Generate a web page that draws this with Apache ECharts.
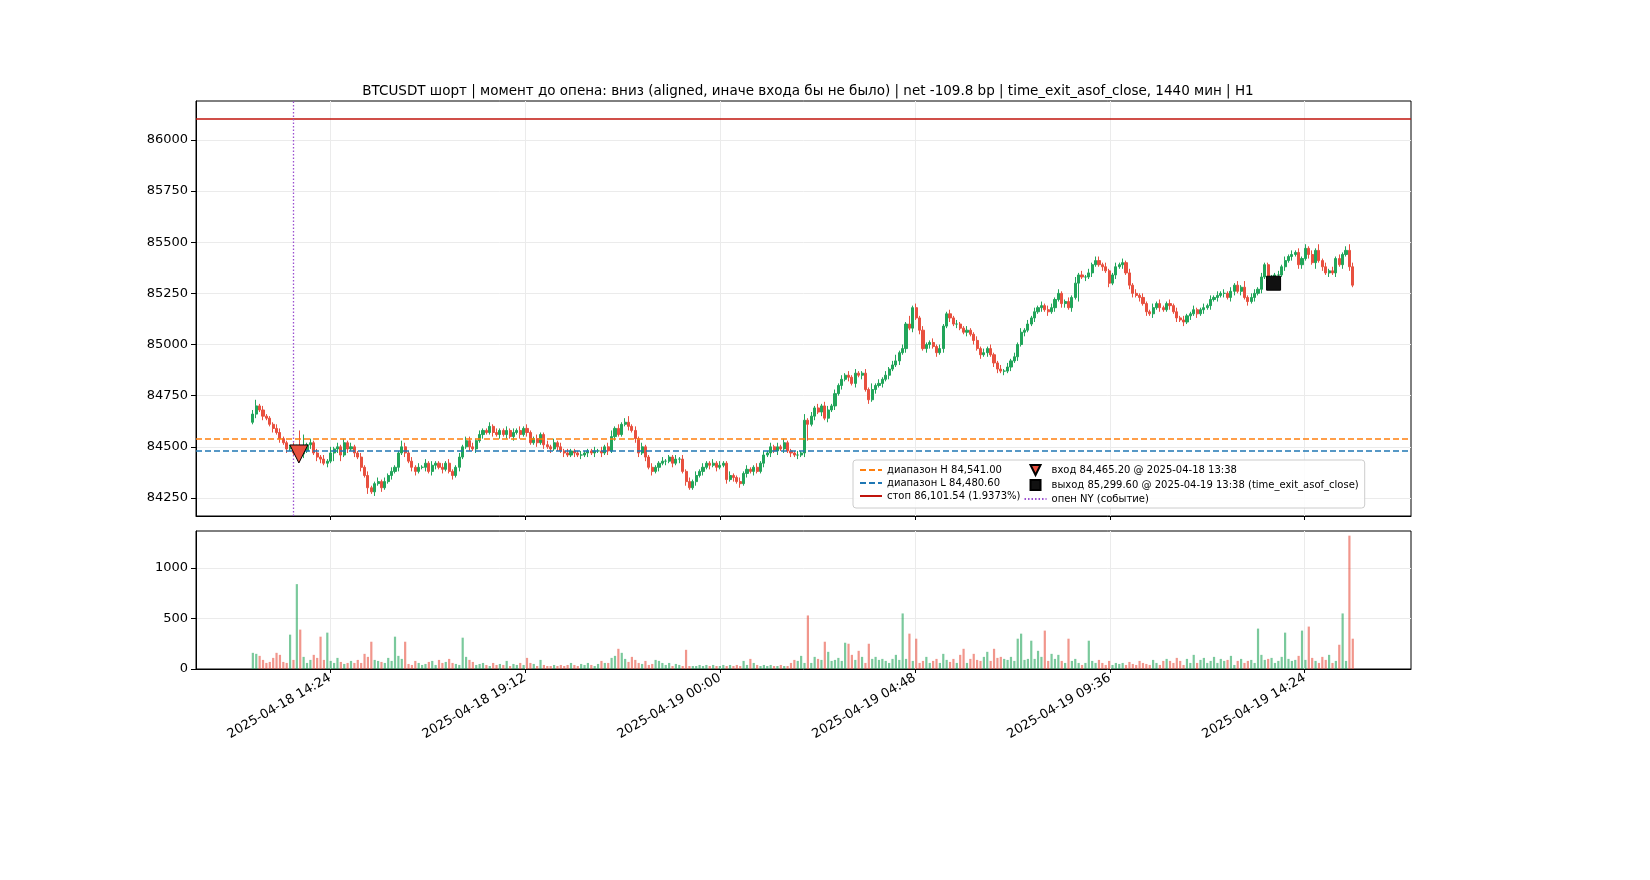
<!DOCTYPE html>
<html><head><meta charset="utf-8">
<script src="https://cdn.jsdelivr.net/npm/echarts@6/dist/echarts.min.js"></script>
<style>html,body{margin:0;background:#fff}#c{width:1650px;height:880px}</style>
</head><body><div id="c"></div>
<script>
// 5-min candles, 2025-04-18 12:30 .. 2025-04-19 15:35 (x = minutes since 2025-04-18 00:00)
var startMin = 750, step = 5;
var firstOpen = 84620;
var closes = [
84660,84700,84680,84650,84640,84610,84590,84570,84540,84520,
84490,84500,84470,84500,84465,84480,84510,84520,84470,84450,
84440,84420,84430,84470,84490,84500,84460,84520,84490,84500,
84470,84450,84400,84360,84300,84280,84320,84330,84300,84330,
84360,84380,84400,84470,84500,84470,84430,84400,84380,84400,
84400,84420,84380,84410,84420,84400,84390,84420,84380,84360,
84400,84450,84500,84530,84500,84490,84530,84560,84580,84570,
84600,84570,84560,84580,84560,84580,84550,84570,84580,84560,
84590,84570,84520,84540,84520,84560,84510,84500,84490,84520,
84500,84480,84470,84460,84480,84470,84460,84460,84470,84480,
84470,84480,84480,84470,84500,84480,84550,84590,84560,84610,
84620,84600,84580,84540,84470,84500,84450,84400,84380,84400,
84420,84430,84430,84450,84420,84440,84440,84380,84330,84300,
84330,84360,84380,84400,84420,84410,84420,84400,84410,84420,
84340,84360,84350,84330,84320,84370,84390,84380,84400,84380,
84420,84460,84470,84500,84480,84500,84490,84520,84480,84470,
84460,84460,84470,84630,84610,84650,84690,84670,84700,84640,
84680,84700,84760,84800,84830,84850,84840,84810,84860,84850,
84860,84780,84730,84780,84800,84810,84830,84850,84880,84900,
84920,84960,84980,85100,85080,85180,85130,85070,84980,85000,
85010,84990,84960,84980,85090,85150,85130,85100,85100,85080,
85060,85070,85050,85020,84980,84950,84960,84980,84950,84910,
84880,84870,84870,84890,84920,84940,85000,85060,85070,85100,
85130,85160,85180,85190,85170,85160,85180,85220,85250,85200,
85210,85180,85230,85300,85340,85330,85330,85350,85390,85410,
85390,85380,85360,85300,85340,85380,85390,85400,85350,85290,
85250,85240,85230,85200,85160,85150,85180,85200,85180,85170,
85200,85190,85160,85130,85120,85110,85140,85150,85170,85150,
85170,85180,85190,85220,85230,85240,85250,85250,85230,85260,
85290,85260,85280,85230,85210,85230,85250,85270,85330,85390,
85320,85320,85340,85340,85380,85410,85430,85440,85450,85390,
85420,85470,85440,85400,85460,85410,85380,85350,85360,85350,
85420,85390,85440,85460,85380,85290];
// wick lengths above / below the body, in tens of USD
var hiWick = ('2312111221' + '1121881212' + '1213121212' + '1121211212' + '1211321212' +
  '1212112121' + '1212221211' + '2121121212' + '1211211212' + '1212111211' +
  '1212123121' + '2312121121' + '1211121212' + '1212112121' + '1211212112' +
  '1212121211' + '1213121212' + '2121212121' + '1213121212' + '3121412121' +
  '1212112121' + '1211212121' + '1212121212' + '1212122121' + '1213121212' +
  '2121121212' + '1212112121' + '1212121121' + '1212121212' + '1213122121' +
  '1212121212' + '1212131212' + '1212329').split('').map(Number);
var loWick = ('1212112121' + '2112121212' + '2121423121' + '2121312121' + '1212121221' +
  '1212212112' + '1211212121' + '1212121212' + '1211212121' + '2121121212' +
  '1212121211' + '1212212121' + '2121212121' + '1212121211' + '2121212121' +
  '1212121212' + '1212812121' + '2121212121' + '2121212121' + '1212121212' +
  '2121212121' + '1212121212' + '2121212121' + '1212121212' + '2121912121' +
  '1212121212' + '2121212121' + '1212121212' + '1212121212' + '2121212121' +
  '1212121212' + '2121312121' + '2121215').split('').map(Number);
var volumes = [
160,150,130,90,60,70,110,160,140,70,
60,340,90,840,390,120,60,90,140,110,
320,90,360,80,60,110,70,50,60,80,
60,90,60,150,120,270,90,80,70,60,
110,80,320,130,100,270,50,40,80,60,
40,50,70,80,40,90,60,70,100,60,
50,40,310,120,90,70,40,50,60,40,
30,60,40,50,40,80,30,50,40,60,
40,110,60,50,30,90,40,30,30,40,
30,40,30,40,60,40,30,50,40,60,
40,30,50,80,60,60,110,130,200,160,
100,70,120,90,60,50,80,40,50,90,
80,60,40,60,30,50,40,30,190,30,
30,30,40,30,40,30,40,30,30,40,
30,40,30,40,30,80,40,100,60,40,
30,40,30,40,30,30,40,30,30,60,
90,80,130,60,530,60,120,100,90,270,
170,80,90,110,80,260,250,140,90,180,
120,60,250,100,120,90,100,80,60,100,
140,90,550,100,350,80,300,60,80,120,
60,80,100,60,150,90,70,100,60,140,
200,60,100,150,90,80,120,170,80,200,
110,120,100,90,120,80,300,350,90,100,
280,100,180,120,380,80,150,100,140,80,
60,300,80,100,60,40,60,280,80,60,
90,60,40,80,40,60,50,60,40,70,
50,40,80,60,50,40,90,60,40,80,
100,80,60,110,80,40,100,60,140,60,
90,110,60,80,120,60,100,80,90,130,
40,80,100,60,80,90,60,400,140,90,
100,110,60,80,120,360,100,80,90,130,
380,90,420,110,80,60,120,90,140,60,
80,240,550,80,1320,300];
var xTicks = [864, 1152, 1440, 1728, 2016, 2304];
var xTickLabels = ['2025-04-18 14:24', '2025-04-18 19:12', '2025-04-19 00:00',
  '2025-04-19 04:48', '2025-04-19 09:36', '2025-04-19 14:24'];
var priceTicks = [84250, 84500, 84750, 85000, 85250, 85500, 85750, 86000];
var volTicks = [0, 500, 1000];
var rangeH = 84541.00, rangeL = 84480.60, stopPrice = 86101.54;
var entry = [818, 84465.20], exit = [2258, 85299.60], nyOpen = 810;

var GREEN = '#21a55a', RED = '#e8503f';
var candles = [], vols = [];
var prev = firstOpen;
for (var i = 0; i < closes.length; i++) {
  var o = prev, c = closes[i];
  var hi = Math.max(o, c) + hiWick[i] * 10, lo = Math.min(o, c) - loWick[i] * 10;
  var x = startMin + i * step;
  candles.push([x, o, c, lo, hi]);
  vols.push({value: [x, volumes[i]], itemStyle: {color: c >= o ? 'rgba(33,165,90,0.6)' : 'rgba(232,80,63,0.6)'}});
  prev = c;
}
var labelMap = {};
xTicks.forEach(function (t, k) { labelMap[t] = xTickLabels[k]; });
var font = 'DejaVu Sans';
var gridLine = {show: true, lineStyle: {color: '#ebebeb'}};
var xCommon = {type: 'value', min: 666, max: 2461,
  axisLine: {onZero: false, lineStyle: {color: '#000'}},
  axisTick: {customValues: xTicks, length: 4, lineStyle: {color: '#000'}}};

var chart = echarts.init(document.getElementById('c'));
chart.setOption({
  animation: false,
  textStyle: {fontFamily: font},
  title: {text: 'BTCUSDT шорт | момент до опена: вниз (aligned, иначе входа бы не было) | net -109.8 bp | time_exit_asof_close, 1440 мин | H1',
    left: 803, top: 79, textAlign: 'center', textStyle: {fontSize: 13.5, fontWeight: 'normal', color: '#000', fontFamily: font}},
  grid: [{left: 196, right: 239, top: 101, height: 415, show: true, borderColor: '#000', borderWidth: 1},
         {left: 196, right: 239, top: 531, height: 138, show: true, borderColor: '#000', borderWidth: 1}],
  xAxis: [
    Object.assign({}, xCommon, {gridIndex: 0, axisLabel: {show: false},
      splitLine: Object.assign({customValues: xTicks}, gridLine)}),
    Object.assign({}, xCommon, {gridIndex: 1, splitLine: Object.assign({customValues: xTicks}, gridLine),
      axisLabel: {customValues: xTicks, rotate: 30, fontSize: 13, color: '#000', margin: 8,
        formatter: function (v) { return labelMap[v] || ''; }}})
  ],
  yAxis: [
    {type: 'value', gridIndex: 0, min: 84162, max: 86190,
      axisLabel: {fontSize: 13, color: '#000', customValues: priceTicks, formatter: function (v) { return String(v); }},
      axisTick: {show: true, customValues: priceTicks, lineStyle: {color: '#000'}},
      axisLine: {show: true, lineStyle: {color: '#000'}},
      splitLine: Object.assign({customValues: priceTicks}, gridLine)},
    {type: 'value', gridIndex: 1, min: 0, max: 1366,
      axisLabel: {fontSize: 13, color: '#000', customValues: volTicks, formatter: function (v) { return String(v); }},
      axisTick: {show: true, customValues: volTicks, lineStyle: {color: '#000'}},
      axisLine: {show: true, lineStyle: {color: '#000'}},
      splitLine: Object.assign({customValues: volTicks}, gridLine)}
  ],
  legend: {left: 853, top: 460, width: 552, height: 50, orient: 'vertical', itemGap: 3,
    itemWidth: 22, itemHeight: 10, textStyle: {fontSize: 10, color: '#000', fontFamily: font},
    backgroundColor: 'rgba(255,255,255,0.85)', borderColor: '#ccc', borderWidth: 1, borderRadius: 3, padding: [4, 6],
    data: [
      {name: 'диапазон H 84,541.00', itemStyle: {opacity: 0}},
      {name: 'диапазон L 84,480.60', itemStyle: {opacity: 0}},
      {name: 'стоп 86,101.54 (1.9373%)', itemStyle: {opacity: 0}},
      {name: 'вход 84,465.20 @ 2025-04-18 13:38', icon: 'path://M0,0 L14,0 L7,14 Z'},
      {name: 'выход 85,299.60 @ 2025-04-19 13:38 (time_exit_asof_close)', icon: 'path://M0,0 L12,0 L12,12 L0,12 Z'},
      {name: 'опен NY (событие)', itemStyle: {opacity: 0}}]},
  series: [
    {type: 'candlestick', name: 'price', xAxisIndex: 0, yAxisIndex: 0, data: candles, barWidth: 2.6,
      encode: {x: 0, y: [1, 2, 3, 4]},
      itemStyle: {color: GREEN, color0: RED, borderColor: GREEN, borderColor0: RED, borderWidth: 1}},
    {type: 'bar', name: 'vol', xAxisIndex: 1, yAxisIndex: 1, data: vols, barWidth: 2.2},
    {type: 'line', name: 'диапазон H 84,541.00', data: [], symbol: 'none', lineStyle: {color: '#ff7f0e', type: [6, 3], width: 1.5}, itemStyle: {color: '#ff7f0e'},
      markLine: {silent: true, symbol: 'none', label: {show: false}, lineStyle: {color: '#ff7f0e', type: [6, 3], width: 1.5}, data: [{yAxis: rangeH}]}},
    {type: 'line', name: 'диапазон L 84,480.60', data: [], symbol: 'none', lineStyle: {color: '#1f77b4', type: [6, 3], width: 1.5}, itemStyle: {color: '#1f77b4'},
      markLine: {silent: true, symbol: 'none', label: {show: false}, lineStyle: {color: '#1f77b4', type: [6, 3], width: 1.5}, data: [{yAxis: rangeL}]}},
    {type: 'line', name: 'стоп 86,101.54 (1.9373%)', data: [], symbol: 'none', lineStyle: {color: '#c0140c', width: 1.5}, itemStyle: {color: '#c0140c'},
      markLine: {silent: true, symbol: 'none', label: {show: false}, lineStyle: {color: '#c0140c', type: 'solid', width: 1.5}, data: [{yAxis: stopPrice}]}},
    {type: 'line', name: 'опен NY (событие)', data: [], symbol: 'none', lineStyle: {color: '#9b4fd0', type: [1.5, 2], width: 1.2}, itemStyle: {color: '#9b4fd0'},
      markLine: {silent: true, symbol: 'none', label: {show: false}, lineStyle: {color: '#9b4fd0', type: [1.5, 2], width: 1.3}, data: [{xAxis: nyOpen}]}},
    {type: 'scatter', name: 'вход 84,465.20 @ 2025-04-18 13:38', data: [entry], symbol: 'triangle', symbolRotate: 180, symbolSize: 18,
      itemStyle: {color: '#e8503f', borderColor: '#000', borderWidth: 1, opacity: 1}, z: 5},
    {type: 'scatter', name: 'выход 85,299.60 @ 2025-04-19 13:38 (time_exit_asof_close)', data: [exit], symbol: 'rect', symbolSize: 14,
      itemStyle: {color: '#111', borderColor: '#000', borderWidth: 1, opacity: 1}, z: 5}
  ]
});
</script></body></html>
